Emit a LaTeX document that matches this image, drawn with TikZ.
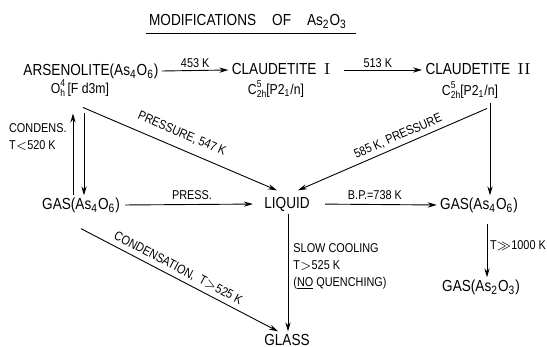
\documentclass[tikz,border=0pt]{standalone}
\usepackage{amsmath,amssymb}
\usepackage{fontspec}
\setsansfont[FakeStretch=0.85]{Liberation Sans}
\usepackage{tikz}
\usetikzlibrary{arrows.meta}
\newcommand{\spgrp}[3]{#1\rlap{\raisebox{3.3pt}{\fontsize{5}{5}\selectfont #3}}\raisebox{-1.7pt}{\fontsize{5}{5}\selectfont #2}}

\begin{document}
\begin{tikzpicture}[x=0.5pt, y=-0.5pt, >={Stealth[length=4.5pt,width=2.6pt]}, line width=0.45pt,
    phase/.style={inner xsep=1.5pt, inner ysep=1pt, text height=6pt, text depth=1.2pt, font=\sffamily\fontsize{8}{10}\selectfont},
    sg/.style={inner sep=0.3pt, font=\sffamily\fontsize{7.2}{9}\selectfont},
    lbl/.style={inner sep=1pt, font=\sffamily\fontsize{6.4}{8.5}\selectfont}]
      \useasboundingbox (0,0) rectangle (547,347);

      \node[phase, anchor=base] (title) at (248,26) {MODIFICATIONS\quad OF\quad As\textsubscript{2}O\textsubscript{3}};
      \draw ([yshift=-3.5pt]title.base west) -- ([yshift=-3.5pt, xshift=3pt]title.base east);

      \node[phase] (arsen) at (91,71) {ARSENOLITE(As\textsubscript{4}O\textsubscript{6})};
      \node[sg] (arsensg) at (80,88) {\spgrp{O}{h}{4}\,[F d3m]};
      \node[phase] (claud1) at (281,70) {CLAUDETITE\ \ {\rmfamily I}};
      \node[sg] (claud1sg) at (276,89) {\spgrp{C}{2h}{5}[P2\textsubscript{1}/n]};
      \node[phase] (claud2) at (478,70) {CLAUDETITE\ \ {\rmfamily II}};
      \node[sg] (claud2sg) at (470,90) {\spgrp{C}{2h}{5}[P2\textsubscript{1}/n]};

      \node[phase] (gasL) at (81,205) {GAS(As\textsubscript{4}O\textsubscript{6})};
      \node[phase] (liquid) at (287,204) {LIQUID};
      \node[phase] (gasR) at (479,205) {GAS(As\textsubscript{4}O\textsubscript{6})};
      \node[phase] (gasR2) at (481,287) {GAS(As\textsubscript{2}O\textsubscript{3})};
      \node[phase] (glass) at (287,341) {GLASS};

      \draw[->] (arsen.east) -- node[lbl, above] {453 K} (claud1.west);
      \draw[->, shorten <=5pt] (claud1.east) -- node[lbl, above] {513 K} (claud2.west);

      \draw[->, shorten >=8pt] ([xshift=-4pt]gasL.north) -- node[lbl, left=2pt, align=left, pos=0.6] {CONDENS.\\T$<$520 K} ([xshift=-4pt]gasL.north |- arsensg.south);
      \draw[->, shorten <=8pt] ([xshift=1.5pt]gasL.north |- arsensg.south) -- ([xshift=1.5pt]gasL.north);

      \draw[->] ([xshift=1.5pt, yshift=-5pt]arsensg.south) -- node[lbl, sloped, above=3.5pt, pos=0.48] {PRESSURE, 547 K} ([xshift=-5pt, yshift=2pt]liquid.north);
      \draw[->] ([xshift=8.5pt, yshift=-4.5pt]claud2sg.south) -- node[lbl, sloped, above=1pt, pos=0.45] {585 K, PRESSURE} ([xshift=5.5pt, yshift=2pt]liquid.north);
      \draw[->] ([xshift=5.5pt, yshift=-2pt]gasR.north |- claud2sg.south) -- ([xshift=5.5pt]gasR.north);

      \draw[->, shorten <=1pt, shorten >=4pt] (gasL.east) -- node[lbl, above=1pt] {PRESS.} (liquid.west);
      \draw[->, shorten <=6pt] (liquid.east) -- node[lbl, above=1pt] {B.P.=738 K} (gasR.west);

      \draw[->] ([xshift=0.5pt]liquid.south) -- node[lbl, right=1.5pt, align=left, pos=0.45] {SLOW COOLING\\T$>$525 K\\(\underline{NO} QUENCHING)} ([xshift=0.5pt]liquid.south |- glass.north);
      \draw[->, shorten <=4.5pt] ([xshift=4pt]gasR.south) -- node[lbl, right=0.3pt] {T$\gg$1000 K} ([xshift=4pt]gasR.south |- gasR2.north);

      \draw[->] ([yshift=-7pt]gasL.south) -- node[lbl, sloped, above=1pt, pos=0.47] {CONDENSATION, \ T$>$525 K} ([xshift=-4.5pt]glass.north);
    \end{tikzpicture}
\end{document}
